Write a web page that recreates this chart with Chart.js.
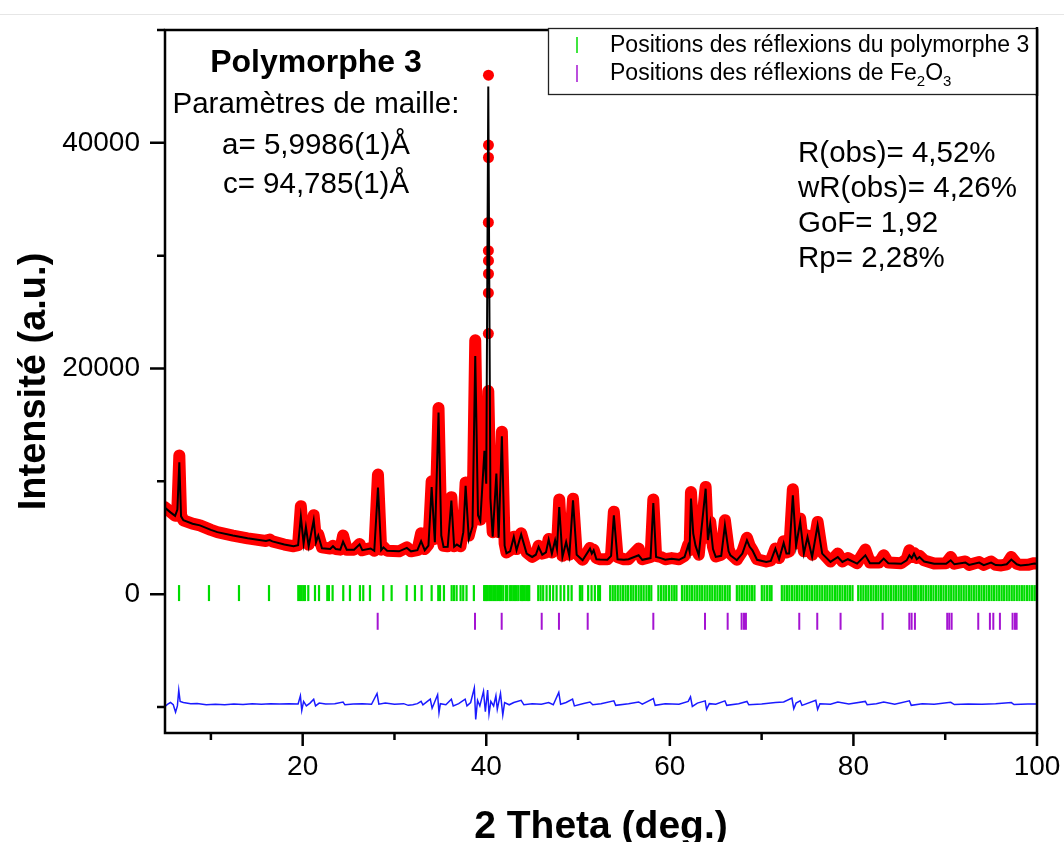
<!DOCTYPE html>
<html>
<head>
<meta charset="utf-8">
<script src="https://cdn.jsdelivr.net/npm/chart.js@4.4.1/dist/chart.umd.min.js"></script>
<style>
  html, body { margin: 0; padding: 0; background: #fff; }
  #wrap { position: relative; width: 1064px; height: 842px; }
</style>
</head>
<body>
<div id="wrap"><canvas id="chart-xrd"></canvas></div>
<script>
const twoTheta = [
  5.0, 5.6, 6.1, 6.35, 6.56, 6.75, 7.0, 8.0, 8.8, 10.0,
  10.7, 12.4, 14.0, 16.0, 16.4, 16.7, 18.0, 19.0, 19.5, 19.8,
  20.1, 20.35, 20.65, 21.2, 21.45, 21.7, 22.1, 23.0, 23.3, 23.6,
  24.1, 24.4, 24.8, 25.6, 26.2, 26.5, 27.4, 27.8, 28.2, 28.55,
  28.8, 29.2, 30.5, 31.35, 31.8, 32.5, 32.9, 33.3, 33.7, 34.05,
  34.4, 34.8, 35.1, 35.35, 35.8, 36.2, 36.5, 36.8, 37.2, 37.5,
  37.75, 38.1, 38.5, 38.8, 39.1, 39.35, 39.8, 40.0, 40.22, 40.45,
  40.7, 41.1, 41.35, 41.7, 42.0, 42.2, 42.6, 43.0, 43.3, 43.8,
  44.4, 45.0, 45.4, 45.7, 46.1, 46.5, 46.8, 47.15, 47.5, 47.7,
  47.95, 48.3, 48.7, 49.05, 49.45, 49.85, 50.5, 51.3, 51.5, 51.7,
  52.0, 52.4, 53.2, 53.6, 53.9, 54.3, 55.0, 55.5, 56.6, 57.0,
  57.9, 58.2, 58.5, 59.0, 59.5, 60.2, 61.0, 61.6, 62.0, 62.15,
  62.3, 62.55, 62.8, 63.15, 63.9, 64.15, 64.4, 64.7, 65.0, 65.6,
  66.0, 66.4, 66.6, 67.3, 67.9, 68.4, 68.7, 69.0, 69.5, 70.5,
  71.0, 71.5, 71.9, 72.4, 72.7, 73.0, 73.4, 73.75, 74.2, 74.6,
  75.0, 75.5, 76.1, 76.6, 77.5, 78.3, 78.8, 79.4, 80.4, 81.3,
  81.8, 82.8, 83.3, 83.8, 85.2, 85.8, 86.1, 86.35, 86.6, 86.9,
  87.2, 87.7, 88.8, 90.1, 90.6, 91.0, 92.2, 92.6, 93.7, 94.2,
  95.0, 95.5, 96.1, 96.7, 97.2, 97.8, 98.2, 99.0, 99.7, 100
];
const yObs = [
  7700, 7300, 6950, 7600, 12300, 7000, 6550, 6250, 6100, 5700,
  5500, 5200, 4950, 4720, 4850, 4680, 4400, 4250, 4350, 7800,
  4600, 6000, 4400, 7000, 4800, 5300, 4150, 4050, 4300, 4000,
  3950, 5200, 3950, 3950, 4450, 3900, 4100, 3850, 10600, 3950,
  4200, 3850, 3800, 4150, 3800, 3900, 5400, 4000, 4400, 10000,
  4900, 16500, 5500, 4300, 4250, 8600, 4250, 4500, 4250, 6000,
  9900, 5200, 6500, 22500, 7500, 6600, 12900, 10000, 18000, 9000,
  5500, 11500, 5500, 14400, 4500, 3700, 3900, 5100, 4000, 5400,
  3700, 3300, 3500, 4300, 3600, 3700, 4900, 3700, 4850, 4000,
  8400, 3400, 4700, 3500, 8450, 3600, 3050, 4100, 3600, 3950,
  3200, 3100, 3100, 3500, 7300, 3300, 3100, 3100, 4050, 3100,
  3300, 8400, 3400, 3300, 3100, 3200, 3100, 3400, 4400, 3900,
  9050, 5600, 4500, 3500, 9500, 5000, 6400, 4200, 3350, 3500,
  6550, 4000, 3600, 3050, 3800, 5000, 4300, 3900, 3100, 2900,
  3000, 4050, 3200, 4700, 3700, 3800, 9300, 4500, 6700, 3800,
  5200, 3500, 6400, 3700, 2900, 3600, 2900, 3200, 2750, 3950,
  2800, 2800, 3450, 2800, 2750, 3100, 3900, 3300, 3650, 3200,
  3400, 3000, 2720, 2750, 3300, 2700, 2900, 2600, 2850, 2600,
  2900, 2600, 2550, 2650, 3300, 2700, 2600, 2600, 2750, 2700
];
const yCalc = [
  7650, 7250, 6950, 7500, 11700, 6900, 6550, 6250, 6100, 5700,
  5500, 5200, 4950, 4720, 4800, 4680, 4400, 4250, 4350, 6850,
  4500, 5950, 4250, 6550, 4600, 5200, 4070, 4000, 4250, 4000,
  3950, 4650, 3950, 3950, 4420, 3900, 4050, 3850, 9450, 3900,
  4150, 3850, 3800, 4100, 3800, 3900, 4700, 3900, 4300, 9500,
  4600, 16100, 5200, 4190, 4200, 8300, 4200, 4400, 4200, 5500,
  9600, 4900, 6000, 21100, 7000, 6500, 12700, 9800, 45000, 8500,
  5100, 10700, 5000, 14000, 4300, 3630, 3800, 5070, 3900, 5300,
  3600, 3300, 3500, 4190, 3500, 3700, 4840, 3600, 4780, 4000,
  7730, 3300, 4630, 3400, 8320, 3500, 3010, 4040, 3600, 3890,
  3100, 3070, 3050, 3400, 7000, 3100, 3050, 3100, 3450, 3050,
  3200, 8080, 3300, 3200, 3050, 3150, 3050, 3300, 4340, 3800,
  8470, 5370, 4300, 3450, 9350, 4800, 6250, 4000, 3300, 3400,
  6100, 3800, 3450, 3010, 3600, 4780, 4200, 3890, 3050, 2860,
  2950, 4040, 3100, 4540, 3600, 3600, 8760, 4300, 6400, 3600,
  5070, 3300, 6100, 3600, 2860, 3300, 2860, 3100, 2710, 3450,
  2750, 2750, 3160, 2750, 2700, 3000, 3450, 3200, 3600, 3100,
  3300, 2900, 2700, 2700, 3010, 2650, 2800, 2600, 2800, 2580,
  2800, 2580, 2570, 2650, 3070, 2650, 2550, 2600, 2710, 2700
];

// separate observed points on the flank of the strongest peak
const peakDotTheta = [40.23, 40.23, 40.24, 40.24, 40.23, 40.23, 40.24, 40.24, 40.24];
const peakDotY = [23100, 26700, 28400, 29560, 30440, 32950, 38700, 39800, 46000];

// difference curve (drawn offset below the pattern)
const diffTheta = [
  5.0, 5.3, 5.6, 5.9, 6.15, 6.35, 6.5, 6.65, 7.0, 7.8,
  8.5, 9.5, 10.5, 11.5, 12.5, 13.5, 14.5, 15.5, 16.5, 17.5,
  18.5, 19.5, 19.75, 19.9, 20.1, 20.4, 20.8, 21.2, 21.4, 21.8,
  22.5, 23.5, 24.4, 24.6, 25.5, 26.5, 27.5, 28.1, 28.3, 29.0,
  30.0, 31.0, 31.5, 32.0, 32.5, 32.9, 33.1, 33.9, 34.1, 34.3,
  34.7, 34.85, 35.0, 35.6, 36.2, 36.4, 37.0, 37.7, 37.9, 38.3,
  38.7, 38.85, 39.05, 39.3, 39.7, 39.9, 40.15, 40.3, 40.5, 40.8,
  41.05, 41.2, 41.55, 41.8, 42.0, 42.5, 43.0, 43.8, 44.1, 45.0,
  46.0, 46.8, 47.3, 47.9, 48.1, 48.7, 49.4, 49.6, 50.5, 51.3,
  51.6, 52.5, 53.9, 54.1, 55.5, 56.6, 57.0, 58.2, 58.4, 59.5,
  61.0, 62.0, 62.25, 62.45, 63.0, 63.85, 64.0, 64.3, 65.0, 66.0,
  66.2, 67.5, 68.4, 68.6, 70.0, 71.5, 72.4, 73.3, 73.5, 73.75,
  74.2, 74.4, 75.9, 76.1, 76.35, 77.5, 78.3, 79.5, 81.3, 81.5,
  82.5, 83.3, 84.5, 86.1, 86.3, 87.5, 88.8, 90.6, 91.0, 92.5,
  94.0, 95.5, 97.2, 97.5, 99.0, 100
];
const diffY = [
  -9950, -9750, -9600, -9800, -10450, -9900, -8500, -9500, -9600, -9700,
  -9680, -9800, -9750, -9800, -9720, -9780, -9700, -9760, -9700, -9740,
  -9700, -9720, -9000, -10300, -9500, -9900, -9650, -9300, -9900, -9650,
  -9720, -9700, -9550, -9800, -9720, -9700, -9750, -8800, -9750, -9650,
  -9750, -9700, -9850, -9800, -9700, -9500, -9800, -9300, -10100, -9700,
  -8900, -10500, -9700, -9800, -9300, -9900, -9700, -9300, -9900, -9600,
  -8300, -11100, -9400, -9900, -8600, -10400, -8500, -10600, -9500, -9900,
  -9000, -10200, -8800, -10700, -9600, -9800, -9600, -9400, -9800, -9700,
  -9750, -9600, -9800, -8700, -9750, -9600, -9300, -9900, -9700, -9550,
  -9800, -9700, -9450, -9850, -9700, -9550, -9750, -9250, -9850, -9700,
  -9750, -9500, -9100, -9950, -9650, -9450, -10200, -9700, -9750, -9450,
  -9850, -9700, -9500, -9800, -9720, -9600, -9550, -9200, -10150, -9650,
  -9450, -9850, -9400, -10200, -9700, -9750, -9550, -9720, -9500, -9800,
  -9700, -9550, -9750, -9450, -9850, -9700, -9760, -9580, -9780, -9720,
  -9760, -9700, -9600, -9780, -9720, -9740
];

// reflection positions (2theta)
const reflPoly3 = [
  6.53, 9.79, 13.06, 16.33, 19.52, 19.71, 19.89, 20.07, 20.25, 20.61,
  21.34, 21.78, 22.68, 22.86, 23.26, 24.42, 25.15, 26.24, 26.6, 27.33,
  28.78, 29.69, 31.33, 32.23, 32.96, 34.05, 34.77, 34.96, 35.39, 36.23,
  36.48, 36.77, 37.2, 37.49, 37.85, 38.65, 39.77, 39.85, 39.96, 40.05,
  40.14, 40.32, 40.45, 40.58, 40.76, 40.9, 41.02, 41.2, 41.35, 41.49,
  41.65, 41.85, 42.15, 42.3, 42.6, 42.76, 42.95, 43.12, 43.3, 43.49,
  43.74, 43.9, 44.03, 44.2, 44.4, 44.55, 44.68, 45.66, 45.92, 46.2,
  46.57, 46.93, 47.29, 47.66, 48.1, 48.49, 48.93, 49.3, 50.2, 50.45,
  51.1, 51.47, 51.83, 52.19, 52.39, 53.5, 53.78, 54.05, 54.33, 54.62,
  54.9, 55.18, 55.45, 55.75, 56.02, 56.3, 56.6, 56.88, 57.15, 57.45,
  57.72, 57.98, 58.75, 59.05, 59.33, 59.6, 59.9, 60.2, 60.48, 60.72,
  61.32, 61.6, 61.88, 62.15, 62.42, 62.7, 62.98, 63.25, 63.52, 63.8,
  64.08, 64.35, 64.62, 64.9, 65.18, 65.45, 65.72, 66.0, 66.28, 66.52,
  67.3, 67.58, 67.85, 68.12, 68.4, 68.68, 68.95, 69.22, 70.02, 70.3,
  70.6, 70.88, 71.08, 72.2, 72.48, 72.75, 73.02, 73.3, 73.58, 73.85,
  74.12, 74.4, 74.68, 74.95, 75.22, 75.5, 75.78, 76.05, 76.32, 76.6,
  76.88, 77.15, 77.42, 77.7, 77.98, 78.25, 78.52, 78.8, 79.08, 79.35,
  79.62, 79.9, 80.52, 80.8, 81.08, 81.35, 81.62, 81.9, 82.18, 82.45,
  82.72, 83.0, 83.28, 83.55, 83.82, 84.1, 84.38, 84.65, 84.92, 85.2,
  85.48, 85.75, 86.02, 86.3, 86.58, 86.8, 87.08, 87.35, 87.62, 87.9,
  88.18, 88.45, 88.72, 89.0, 89.28, 89.55, 89.82, 90.1, 90.38, 90.65,
  90.92, 91.2, 91.48, 91.75, 92.02, 92.3, 92.58, 92.85, 93.12, 93.4,
  93.68, 93.95, 94.22, 94.5, 94.78, 95.05, 95.32, 95.6, 95.88, 96.15,
  96.42, 96.7, 96.98, 97.25, 97.52, 97.8, 98.08, 98.35, 98.62, 98.9,
  99.18, 99.45, 99.72, 99.95
];
const reflFe2O3 = [
  28.17, 38.77, 41.68, 46.04, 47.92, 51.05, 58.2, 63.83, 66.3, 67.82,
  68.08, 68.29, 74.1, 76.06, 78.6, 83.18, 86.09, 86.34, 86.7, 90.22,
  90.44, 90.7, 93.6, 94.87, 95.24, 95.96, 97.34, 97.6, 97.78
];
const reflPoly3Level = 100;
const reflFe2O3Level = -2400;

// axes
const xMin = 5, xMax = 100;
const yMin = -12300, yMax = 50000;
const xTicks = [10, 20, 30, 40, 50, 60, 70, 80, 90, 100];
const xLabelled = [20, 40, 60, 80, 100];
const yTicks = [-10000, 0, 10000, 20000, 30000, 40000, 50000];
const yLabelled = [0, 20000, 40000];

// texts
const titleX = '2 Theta (deg.)';
const titleY = 'Intensité (a.u.)';
const phaseTitle = 'Polymorphe 3';
const cellLines = ['Paramètres de maille:', 'a= 5,9986(1)Å', 'c= 94,785(1)Å'];
const fitLines = ['R(obs)= 4,52%', 'wR(obs)= 4,26%', 'GoF= 1,92', 'Rp= 2,28%'];
const legendLine1 = 'Positions des réflexions du polymorphe 3';
const legendLine2 = [['Positions des réflexions de Fe', false], ['2', true], ['O', false], ['3', true]];

const FONT = '"Liberation Sans", Arial, sans-serif';
const GREEN = '#00dc00';
const PURPLE = '#a514d2';

const pts = (xs, ys) => xs.map((x, i) => ({ x, y: ys[i] }));
const flat = (xs, level) => xs.map(x => ({ x, y: level }));

// frame, tick marks, annotations and legend box
const decor = {
  id: 'decor',
  afterDraw(chart) {
    const { ctx, chartArea: a, scales: { x, y } } = chart;
    ctx.save();

    ctx.strokeStyle = '#e6e6e6';
    ctx.lineWidth = 1;
    ctx.beginPath(); ctx.moveTo(0, 14.5); ctx.lineTo(1064, 14.5); ctx.stroke();

    ctx.strokeStyle = '#000';
    ctx.lineWidth = 2.5;
    ctx.strokeRect(a.left, a.top, a.right - a.left, a.bottom - a.top);
    ctx.beginPath();
    xTicks.forEach(v => {
      const px = x.getPixelForValue(v);
      const len = xLabelled.includes(v) ? 13 : 7;
      ctx.moveTo(px, a.bottom); ctx.lineTo(px, a.bottom + len);
    });
    yTicks.forEach(v => {
      const py = y.getPixelForValue(v);
      const len = yLabelled.includes(v) ? 15 : 8;
      ctx.moveTo(a.left, py); ctx.lineTo(a.left - len, py);
    });
    ctx.stroke();

    // cell parameters block
    ctx.fillStyle = '#000';
    ctx.textAlign = 'center';
    ctx.textBaseline = 'alphabetic';
    ctx.font = 'bold 32px ' + FONT;
    ctx.fillText(phaseTitle, 316, 72);
    ctx.font = '29.5px ' + FONT;
    [113, 154, 193].forEach((by, i) => ctx.fillText(cellLines[i], 316, by));

    // refinement figures of merit
    ctx.textAlign = 'left';
    [162, 197, 232, 267].forEach((by, i) => ctx.fillText(fitLines[i], 798, by));

    // legend box
    ctx.fillStyle = '#fff';
    ctx.fillRect(548, 28, 489, 66);
    ctx.strokeStyle = '#222';
    ctx.lineWidth = 1.3;
    ctx.strokeRect(548.5, 28.5, 488.5, 66);
    ctx.strokeStyle = '#000';
    ctx.lineWidth = 2.5;
    ctx.beginPath(); ctx.moveTo(a.right, 27); ctx.lineTo(a.right, 96); ctx.stroke();

    ctx.lineWidth = 1.5;
    ctx.strokeStyle = GREEN;
    ctx.beginPath(); ctx.moveTo(577, 37); ctx.lineTo(577, 53); ctx.stroke();
    ctx.strokeStyle = PURPLE;
    ctx.beginPath(); ctx.moveTo(577, 65); ctx.lineTo(577, 82); ctx.stroke();

    ctx.fillStyle = '#000';
    ctx.font = '23px ' + FONT;
    ctx.fillText(legendLine1, 610, 52);
    let lx = 610;
    legendLine2.forEach(([t, sub]) => {
      ctx.font = (sub ? '15px ' : '23px ') + FONT;
      ctx.fillText(t, lx, sub ? 86 : 80);
      lx += ctx.measureText(t).width;
    });

    ctx.restore();
  }
};

new Chart(document.getElementById('chart-xrd'), {
  type: 'scatter',
  data: {
    datasets: [
      {
        label: 'Calc',
        data: pts(twoTheta, yCalc),
        showLine: true,
        borderColor: '#000',
        borderWidth: 2,
        pointRadius: 0,
        clip: 0,
        order: 0
      },
      {
        label: 'Obs peak points',
        data: pts(peakDotTheta, peakDotY),
        showLine: false,
        pointRadius: 5.5,
        pointBackgroundColor: '#ff0000',
        pointBorderWidth: 0,
        order: 1
      },
      {
        label: 'Obs',
        data: pts(twoTheta, yObs),
        showLine: true,
        borderColor: '#ff0000',
        borderWidth: 12,
        borderJoinStyle: 'round',
        borderCapStyle: 'round',
        pointRadius: 0,
        clip: 0,
        order: 2
      },
      {
        label: 'Diff',
        data: pts(diffTheta, diffY),
        showLine: true,
        borderColor: '#1a1aff',
        borderWidth: 1.5,
        pointRadius: 0,
        order: 3
      },
      {
        label: 'Polymorphe 3',
        data: flat(reflPoly3, reflPoly3Level),
        showLine: false,
        pointStyle: 'line',
        pointRotation: 90,
        pointRadius: 8,
        pointBorderWidth: 2.2,
        pointBorderColor: GREEN,
        order: 4
      },
      {
        label: 'Fe2O3',
        data: flat(reflFe2O3, reflFe2O3Level),
        showLine: false,
        pointStyle: 'line',
        pointRotation: 90,
        pointRadius: 8.5,
        pointBorderWidth: 2,
        pointBorderColor: PURPLE,
        order: 5
      }
    ]
  },
  options: {
    responsive: true,
    maintainAspectRatio: false,
    animation: false,
    events: [],
    layout: { padding: { left: 0, right: 27, top: 30, bottom: 0 } },
    elements: { line: { tension: 0 } },
    plugins: { legend: { display: false }, tooltip: { enabled: false } },
    scales: {
      x: {
        type: 'linear',
        min: xMin,
        max: xMax,
        border: { display: false },
        grid: { display: false, drawTicks: false },
        afterBuildTicks: s => { s.ticks = xTicks.map(v => ({ value: v })); },
        afterFit: s => { s.height = 109; s.paddingLeft = 0; s.paddingRight = 0; },
        ticks: {
          autoSkip: false,
          maxRotation: 0,
          padding: 17,
          color: '#000',
          font: { family: FONT, size: 28 },
          callback: v => xLabelled.includes(v) ? String(v) : ''
        },
        title: {
          display: true,
          text: titleX,
          color: '#000',
          font: { family: FONT, size: 39, weight: 'bold', lineHeight: 0.75 },
          padding: { top: 0, bottom: 0 }
        }
      },
      y: {
        type: 'linear',
        min: yMin,
        max: yMax,
        border: { display: false },
        grid: { display: false, drawTicks: false },
        afterBuildTicks: s => { s.ticks = yTicks.map(v => ({ value: v })); },
        afterFit: s => { s.width = 165; s.paddingTop = 0; s.paddingBottom = 0; },
        ticks: {
          autoSkip: false,
          padding: 25,
          color: '#000',
          font: { family: FONT, size: 28 },
          callback: v => yLabelled.includes(v) ? String(v) : ''
        },
        title: {
          display: true,
          text: titleY,
          color: '#000',
          font: { family: FONT, size: 38, weight: 'bold' },
          padding: { top: 12, bottom: 0 }
        }
      }
    }
  },
  plugins: [decor]
});
</script>
</body>
</html>
